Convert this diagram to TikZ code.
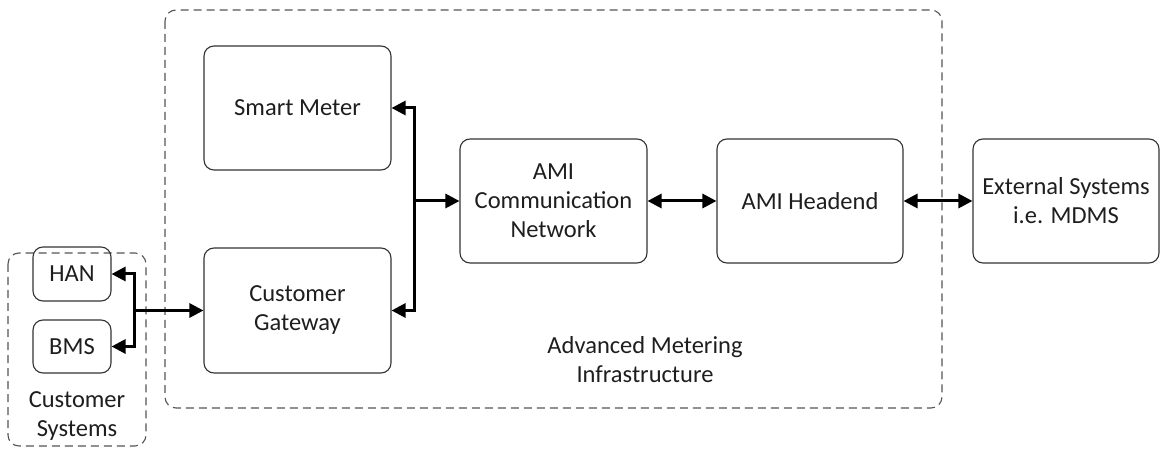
\documentclass[tikz,border=0pt]{standalone}
\usepackage{fontspec}
\setmainfont{Carlito}
\usetikzlibrary{arrows.meta}
\definecolor{inkgray}{HTML}{1E1E1E}
\definecolor{edgegray}{HTML}{333333}
\definecolor{dashgray}{HTML}{555555}
\tikzset{
  block/.style={draw=edgegray, line width=1.1pt, rounded corners=10pt, align=center,
    text=inkgray, font=\fontsize{24.5}{29}\selectfont, inner sep=0pt},
  group/.style={draw=dashgray, line width=1.1pt, dash pattern=on 8pt off 5pt, rounded corners=11pt},
  label/.style={text=inkgray, align=center, font=\fontsize{24.5}{29}\selectfont},
  link/.style={draw=black, line width=3pt, -{Triangle[length=14pt,width=14pt]}},
  biglink/.style={draw=black, line width=3pt, {Triangle[length=14pt,width=14pt]}-{Triangle[length=14pt,width=14pt]}}
}
\begin{document}
\begin{tikzpicture}[x=1pt,y=-1pt]
  \useasboundingbox (0,0) rectangle (1160,449);
  % grouping frames
  \draw[group] (165,10) rectangle (942,408);
  \draw[group] (8,253) rectangle (146,446);
  % blocks
  \node[block, minimum width=187pt, minimum height=124pt] (meter) at (297.5,108) {Smart Meter};
  \node[block, minimum width=187pt, minimum height=125pt] (gw) at (297.5,310.5) {Customer\\Gateway};
  \node[block, minimum width=187pt, minimum height=124pt] (comm) at (553.5,201) {AMI\\Communication\\Network};
  \node[block, minimum width=186pt, minimum height=124pt] (head) at (810,201) {AMI Headend};
  \node[block, minimum width=186pt, minimum height=124pt] (ext) at (1066,201) {External Systems\\i.e. MDMS};
  \node[block, minimum width=78pt, minimum height=54pt] (han) at (72,274) {HAN};
  \node[block, minimum width=78pt, minimum height=53pt] (bms) at (72,346.5) {BMS};
  % group captions
  \node[label] (amilabel) at (645,360) {Advanced Metering\\Infrastructure};
  \node[label] (custlabel) at (77,416) {Customer\\Systems};
  % junction points
  \coordinate (busA) at (414,201);
  \coordinate (busB) at (134,310.5);
  % connectors
  \draw[link] (busA) -- (comm.west);
  \draw[link] (busA) |- (meter.east);
  \draw[link] (busA) |- (gw.east);
  \draw[link] (busB) -- (gw.west);
  \draw[link] (busB) |- (han.east);
  \draw[link] (busB) |- (bms.east);
  \draw[biglink] (comm.east) -- (head.west);
  \draw[biglink] (head.east) -- (ext.west);
\end{tikzpicture}
\end{document}
